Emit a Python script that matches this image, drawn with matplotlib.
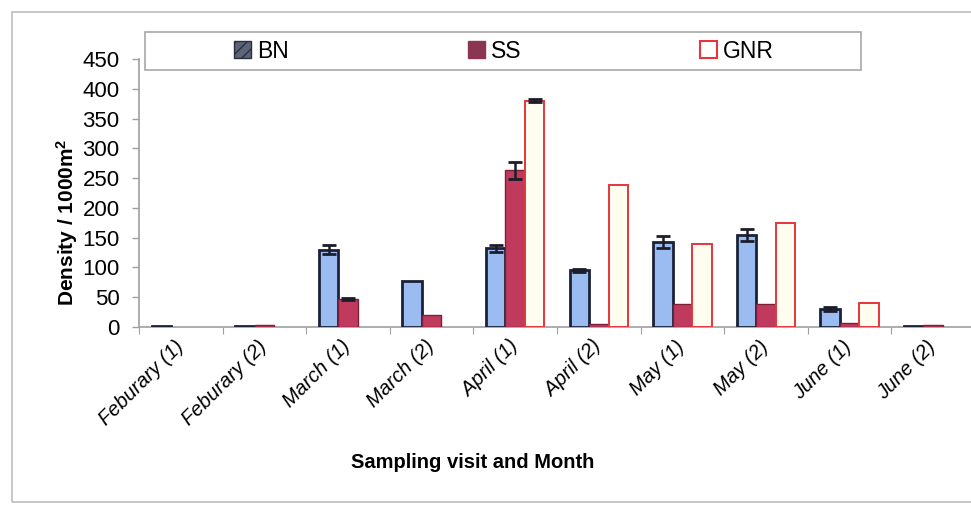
import matplotlib.pyplot as plt
import matplotlib.transforms as mtransforms
import numpy as np
from matplotlib.patches import Patch, Rectangle

plt.rcParams["font.family"] = ["Liberation Sans", "DejaVu Sans"]

visits = [
    "Feburary (1)", "Feburary (2)", "March (1)", "March (2)", "April (1)",
    "April (2)", "May (1)", "May (2)", "June (1)", "June (2)",
]
bn = [2, 1, 130, 77, 132, 95, 142, 155, 30, 1]
bn_err = [0, 0, 7, 0, 6, 2, 10, 10, 3, 0]
ss = [0, 4, 47, 20, 263, 5, 38, 38, 7, 4]
ss_err = [0, 0, 2, 0, 14, 0, 0, 0, 0, 0]
gnr = [0, 0, 0, 0, 380, 238, 140, 175, 40, 0]
gnr_err = [0, 0, 0, 0, 2, 0, 0, 0, 0, 0]
y_ticks = [0, 50, 100, 150, 200, 250, 300, 350, 400, 450]


def only_nonzero(err):
    # no whisker at all where the error is zero
    err = np.asarray(err, dtype=float)
    return np.where(err > 0, err, np.nan)


def edges(values, color):
    # empty samples get no outline along the baseline
    return [color if v > 0 else "none" for v in values]


fig = plt.figure(figsize=(9.71, 5.08), dpi=100)
fig.patches.append(Rectangle((12 / 971, 6 / 508), 1.2, 490 / 508, transform=fig.transFigure,
                             fill=False, edgecolor="#bdbdbd", linewidth=1.2))
ax = fig.add_axes([139 / 971, 181 / 508, 836 / 971, 268 / 508])

x = np.arange(len(visits))
w = 0.233
err_kw = dict(ecolor="#1c1c2a", elinewidth=1.8, capsize=5, capthick=2)
ax.bar(x - w, bn, w, yerr=only_nonzero(bn_err), color="#9bbcf0", edgecolor=edges(bn, "#1b2238"),
       linewidth=2, error_kw=err_kw, zorder=3)
ax.bar(x, ss, w, yerr=only_nonzero(ss_err), color="#c03a5e", edgecolor=edges(ss, "#7a2038"),
       linewidth=1, error_kw=err_kw, zorder=3)
ax.bar(x + w, gnr, w, yerr=only_nonzero(gnr_err), color="#fffdf0", edgecolor=edges(gnr, "#e8343c"),
       linewidth=1.4, error_kw=err_kw, zorder=3)

ax.set_xlim(-0.5, len(visits) - 0.5)
ax.set_ylim(0, 450)
ax.set_yticks(y_ticks)
ax.tick_params(axis="y", labelsize=16, length=5, width=1, color="#a0a0a0", pad=9)
ax.set_xticks(np.arange(len(visits) + 1) - 0.5)
ax.set_xticklabels([])
ax.tick_params(axis="x", which="major", length=5, color="#a0a0a0")
ax.set_xticks(x, minor=True)
ax.set_xticklabels(visits, minor=True, rotation=45, ha="right", rotation_mode="anchor",
                   fontsize=14.5, fontstyle="italic")
ax.tick_params(axis="x", which="minor", length=0, pad=7)
shift = mtransforms.ScaledTranslation(-7 / 100, 0, fig.dpi_scale_trans)
for label in ax.get_xticklabels(minor=True):
    label.set_transform(label.get_transform() + shift)

for side in ("top", "right"):
    ax.spines[side].set_visible(False)
for side in ("left", "bottom"):
    ax.spines[side].set_color("#a0a0a0")
    ax.spines[side].set_linewidth(1.2)

fig.text(0.069, 0.563, "Density / 1000m$\\mathregular{^2}$", rotation=90, ha="center", va="center",
         fontsize=15, fontweight="bold")
fig.text(0.487, 0.089, "Sampling visit and Month", ha="center", va="center",
         fontsize=14.5, fontweight="bold")

# legend sits in its own box across the top of the plot
fig.patches.append(Rectangle((145 / 971, 1 - 70 / 508), 716 / 971, 38 / 508,
                             transform=fig.transFigure, facecolor="white",
                             edgecolor="#a8a8a8", linewidth=1.2, zorder=5))
handles = [
    Patch(facecolor="#5b6478", edgecolor="#2a2f40", hatch="///"),
    Patch(facecolor="#8b3552", edgecolor="#8b3552"),
    Patch(facecolor="white", edgecolor="#e8343c", linewidth=1.5),
]
leg = fig.legend(handles, ["BN", "SS", "GNR"], loc="center", bbox_to_anchor=(0.519, 1 - 51 / 508),
                 ncol=3, frameon=False, fontsize=16.5, handlelength=0.75, handleheight=0.75,
                 handletextpad=0.25, columnspacing=7.8)
leg.set_zorder(6)

fig.savefig("out.png", dpi=100)
